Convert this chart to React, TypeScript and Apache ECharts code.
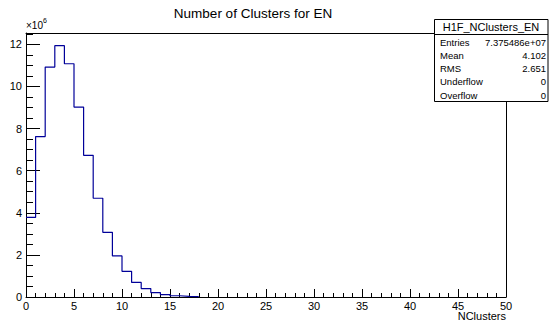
import React, { useEffect, useRef } from "react";
import * as echarts from "echarts";

// Histogram H1F_NClusters_EN, bin contents in units of 10^6
const binEdges = [0, 1, 2, 3, 4, 5, 6, 7, 8, 9, 10, 11, 12, 13, 14, 15, 16, 17, 18];
const counts = [3.78, 7.62, 10.92, 11.94, 11.08, 9.02, 6.73, 4.69, 3.07, 1.95, 1.22, 0.69, 0.40, 0.21, 0.11, 0.06, 0.03, 0.015];

const titleText = "Number of Clusters for EN";
const xTitle = "NClusters";
const histName = "H1F_NClusters_EN";
const statLabels = ["Entries", "Mean", "RMS", "Underflow", "Overflow"];
const statValues = ["7.375486e+07", "4.102", "2.651", "0", "0"];

const X_MIN = 0;
const X_MAX = 50;
const Y_MAX = 12.54;

const FONT = "'Liberation Sans', Arial, Helvetica, sans-serif";

export default function App() {
  const ref = useRef<HTMLDivElement>(null);
  useEffect(() => {
    if (!ref.current) return;
    const chart = echarts.init(ref.current, null, { renderer: "svg" });

    const data: [number, number][] = counts.map((v, i) => [binEdges[i], v]);
    data.push([binEdges[counts.length], 0]);

    const statRowY = [42, 55.3, 68.5, 81.8, 95];
    const statGraphics: any[] = [
      {
        type: "rect",
        shape: { x: 434.5, y: 19.5, width: 113.5, height: 82 },
        style: { fill: "#fff", stroke: "#000", lineWidth: 1 },
        z: 10,
      },
      {
        type: "line",
        shape: { x1: 434.5, y1: 34.5, x2: 548, y2: 34.5 },
        style: { stroke: "#000", lineWidth: 1 },
        z: 11,
      },
      {
        type: "text",
        x: 491,
        y: 27,
        z: 11,
        style: {
          text: histName,
          fontSize: 11,
          fontFamily: FONT,
          fill: "#000",
          textAlign: "center",
          textVerticalAlign: "middle",
        },
      },
    ];
    statLabels.forEach((l, i) => {
      statGraphics.push({
        type: "text",
        x: 440,
        y: statRowY[i],
        z: 11,
        style: {
          text: l,
          fontSize: 9.5,
          fontFamily: FONT,
          fill: "#000",
          textAlign: "left",
          textVerticalAlign: "middle",
        },
      });
      statGraphics.push({
        type: "text",
        x: 546,
        y: statRowY[i],
        z: 11,
        style: {
          text: statValues[i],
          fontSize: 9.5,
          fontFamily: FONT,
          fill: "#000",
          textAlign: "right",
          textVerticalAlign: "middle",
        },
      });
    });

    const option: any = {
      animation: false,
      backgroundColor: "#fff",
      grid: { left: 26, right: 43, top: 33, bottom: 28, containLabel: false },
      xAxis: [
        {
          type: "value",
          min: X_MIN,
          max: X_MAX,
          interval: 5,
          position: "bottom",
          axisLine: { show: true, onZero: false, lineStyle: { color: "#000", width: 1 } },
          axisTick: { show: true, inside: true, length: 8, lineStyle: { color: "#000", width: 1 } },
          minorTick: { show: true, splitNumber: 5, length: 4, lineStyle: { color: "#000", width: 1 } },
          splitLine: { show: false },
          axisLabel: { color: "#000", fontSize: 11, fontFamily: FONT, margin: 3 },
        },
        {
          type: "value",
          min: X_MIN,
          max: X_MAX,
          position: "top",
          axisLine: { show: true, onZero: false, lineStyle: { color: "#000", width: 1 } },
          axisTick: { show: false },
          axisLabel: { show: false },
          splitLine: { show: false },
        },
      ],
      yAxis: [
        {
          type: "value",
          min: 0,
          max: Y_MAX,
          interval: 2,
          position: "left",
          axisLine: { show: true, onZero: false, lineStyle: { color: "#000", width: 1 } },
          axisTick: { show: true, inside: true, length: 14, lineStyle: { color: "#000", width: 1 } },
          splitLine: { show: false },
          axisLabel: {
            color: "#000",
            fontSize: 11,
            fontFamily: FONT,
            margin: 4,
            formatter: (v: number) => {
              const r = Math.round(v);
              return Math.abs(v - r) < 1e-6 && r % 2 === 0 ? String(r) : "";
            },
          },
        },
        {
          type: "value",
          min: 0,
          max: Y_MAX,
          position: "right",
          axisLine: { show: true, onZero: false, lineStyle: { color: "#000", width: 1 } },
          axisTick: { show: false },
          axisLabel: { show: false },
          splitLine: { show: false },
        },
        {
          type: "value",
          min: 0,
          max: Y_MAX,
          interval: 0.5,
          position: "left",
          offset: 0,
          axisLine: { show: false },
          axisTick: { show: true, inside: true, length: 7, lineStyle: { color: "#000", width: 1 } },
          axisLabel: { show: false },
          splitLine: { show: false },
        },
      ],
      series: [
        {
          type: "line",
          xAxisIndex: 0,
          yAxisIndex: 0,
          step: "end",
          symbol: "none",
          showSymbol: false,
          data,
          lineStyle: { color: "#000099", width: 1.2 },
          z: 5,
        },
      ],
      graphic: [
        {
          type: "text",
          x: 253,
          y: 13,
          style: {
            text: titleText,
            fontSize: 13.5,
            fontFamily: FONT,
            fill: "#000",
            textAlign: "center",
            textVerticalAlign: "middle",
          },
        },
        {
          type: "text",
          x: 26,
          y: 25,
          style: {
            text: "×10",
            fontSize: 10,
            fontFamily: FONT,
            fill: "#000",
            textAlign: "left",
            textVerticalAlign: "middle",
          },
        },
        {
          type: "text",
          x: 43,
          y: 20,
          style: {
            text: "6",
            fontSize: 7,
            fontFamily: FONT,
            fill: "#000",
            textAlign: "left",
            textVerticalAlign: "middle",
          },
        },
        {
          type: "text",
          x: 506,
          y: 316,
          style: {
            text: xTitle,
            fontSize: 11,
            fontFamily: FONT,
            fill: "#000",
            textAlign: "right",
            textVerticalAlign: "middle",
          },
        },
        ...statGraphics,
      ],
    };

    chart.setOption(option);
    return () => chart.dispose();
  }, []);

  return (
    <div
      ref={ref}
      style={{ position: "fixed", left: 0, top: 0, width: 549, height: 325, background: "#fff" }}
    />
  );
}
